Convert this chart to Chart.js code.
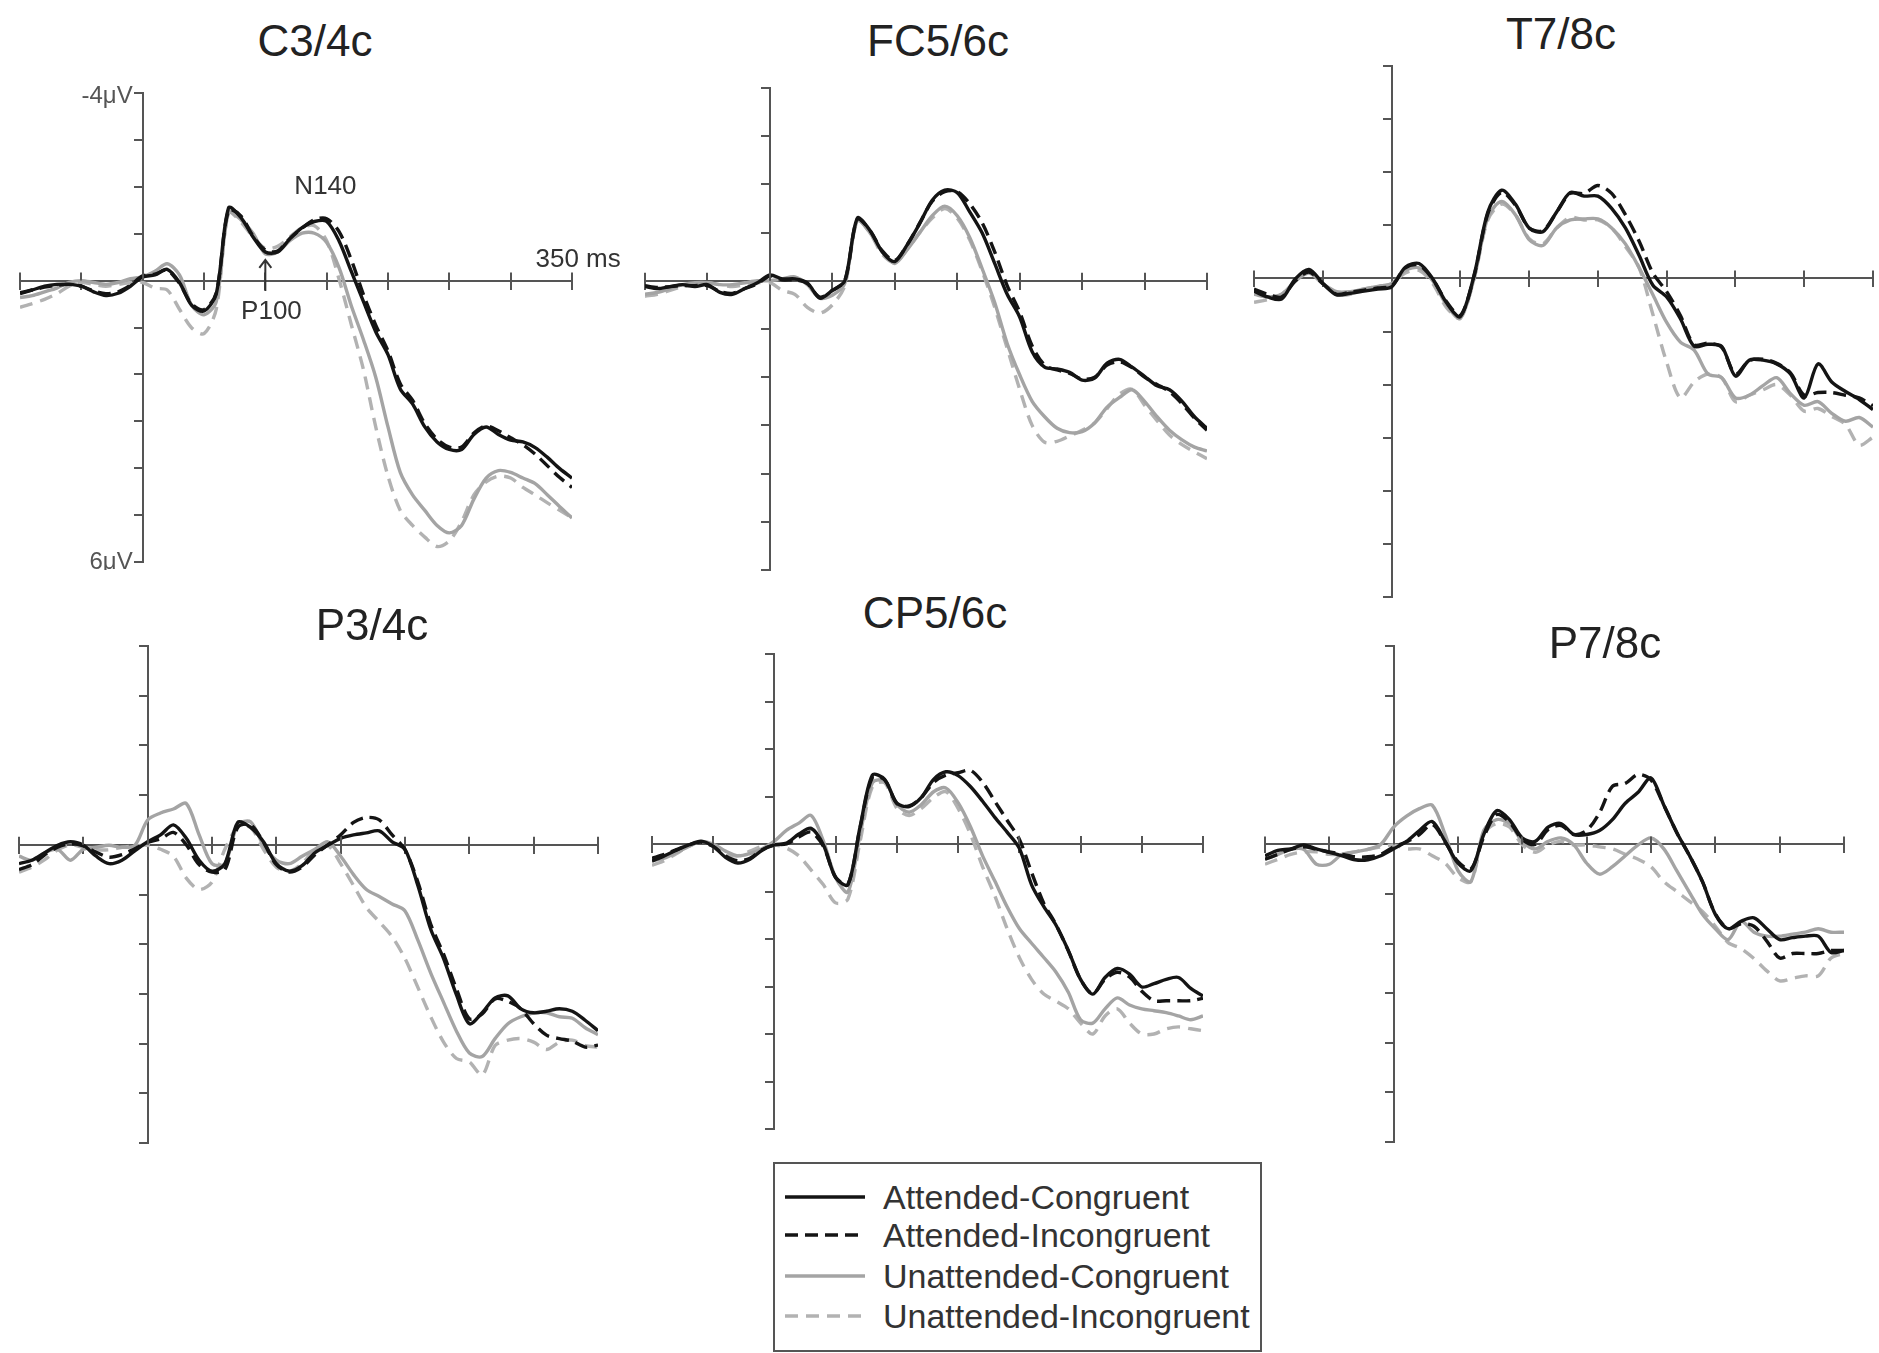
<!DOCTYPE html>
<html>
<head>
<meta charset="utf-8">
<script src="https://cdn.jsdelivr.net/npm/chart.js@4.4.1/dist/chart.umd.min.js"></script>
<style>
  html, body { margin: 0; padding: 0; background: #fff; }
  #page { position: relative; width: 1879px; height: 1353px; overflow: hidden; background: #fff;
          font-family: "Liberation Sans", Arial, sans-serif; }
  .panel { position: absolute; }
  .title { position: absolute; font-size: 44px; line-height: 44px; color: #222; transform: translate(-50%, -50%); white-space: nowrap; }
  #legend { position: absolute; left: 773px; top: 1162px; width: 485px; height: 186px; border: 2px solid #555; }
  .lrow { position: absolute; left: 10px; height: 40px; display: flex; align-items: center; }
  .lrow span { margin-left: 18px; font-size: 34px; color: #333; white-space: nowrap; }
</style>
</head>
<body>
<div id="page"></div>
<script>
// time axis (ms) and the four conditions
const times = [-100,-90,-80,-70,-60,-50,-40,-30,-20,-10,
  0,10,20,30,40,50,60,70,80,90,
  100,110,120,130,140,150,160,170,180,190,
  200,210,220,230,240,250,260,270,280,290,
  300,310,320,330,340,350];
const seriesNames = ['Attended-Congruent', 'Attended-Incongruent', 'Unattended-Congruent', 'Unattended-Incongruent'];

// C3/4c (µV)
const c34Ac = [0.28,0.2,0.12,0.08,0.08,0.12,0.24,0.32,0.27,0.12,
  -0.08,-0.12,-0.24,0.04,0.53,0.65,0.28,-1.55,-1.35,-0.93,
  -0.61,-0.61,-0.89,-1.13,-1.26,-1.26,-0.85,-0.2,0.45,1.09,
  1.58,2.31,2.63,3.12,3.44,3.6,3.6,3.28,3.12,3.28,
  3.4,3.44,3.56,3.77,4.01,4.21];
const c34Ai = [0.26,0.2,0.14,0.1,0.08,0.12,0.22,0.28,0.24,0.1,
  -0.1,-0.14,-0.22,0.06,0.5,0.62,0.26,-1.5,-1.38,-0.95,
  -0.65,-0.63,-0.9,-1.12,-1.3,-1.32,-1.05,-0.45,0.3,0.95,
  1.5,2.2,2.55,3.05,3.38,3.55,3.55,3.25,3.1,3.2,
  3.35,3.5,3.7,3.95,4.2,4.41];
const c34Uc = [0.36,0.32,0.24,0.16,0.04,0,0.04,0.08,0.04,-0.04,
  -0.08,-0.2,-0.36,-0.12,0.53,0.73,0.45,-1.45,-1.3,-1.01,
  -0.57,-0.61,-0.85,-1.01,-1.01,-0.81,-0.28,0.53,1.26,2.06,
  3.12,4.09,4.57,4.9,5.22,5.38,5.22,4.66,4.21,4.05,
  4.09,4.21,4.33,4.57,4.82,5.06];
const c34Ui = [0.57,0.49,0.4,0.28,0.12,0.04,0.08,0.12,0.08,0.04,
  0.04,0.16,0.2,0.61,1.01,1.13,0.61,-1.45,-1.25,-0.93,
  -0.69,-0.73,-0.93,-1.13,-1.17,-0.85,-0.04,0.93,1.9,3.12,
  4.17,4.9,5.22,5.47,5.67,5.55,5.14,4.57,4.29,4.17,
  4.21,4.41,4.57,4.74,4.9,5.06];

// FC5/6c
const fc56Ac = [0.12,0.16,0.12,0.08,0.12,0.08,0.24,0.28,0.16,0.04,
  -0.12,-0.04,-0.04,0.04,0.36,0.2,0.0,-1.3,-1.05,-0.6,
  -0.4,-0.75,-1.19,-1.67,-1.88,-1.83,-1.43,-0.99,-0.36,0.28,
  0.75,1.47,1.79,1.83,1.9,2.06,2.02,1.71,1.63,1.79,
  1.98,2.18,2.26,2.5,2.82,3.06];
const fc56Ai = [0.1,0.14,0.12,0.1,0.1,0.1,0.22,0.26,0.16,0.06,
  -0.1,-0.02,-0.02,0.06,0.34,0.2,0.0,-1.28,-1.05,-0.62,
  -0.42,-0.75,-1.2,-1.65,-1.85,-1.85,-1.6,-1.2,-0.6,0.1,
  0.65,1.35,1.75,1.85,1.92,2.04,2.0,1.75,1.68,1.8,
  2.0,2.15,2.3,2.55,2.85,3.1];
const fc56Uc = [0.28,0.24,0.16,0.08,0.04,0.04,0.08,0.08,0.04,0,
  0,-0.04,-0.08,0.08,0.36,0.3,0.05,-1.25,-1.0,-0.6,
  -0.36,-0.65,-1.0,-1.35,-1.55,-1.35,-0.9,-0.25,0.45,1.3,
  1.95,2.5,2.82,3.06,3.15,3.13,2.95,2.62,2.42,2.26,
  2.5,2.82,3.1,3.3,3.45,3.53];
const fc56Ui = [0.32,0.28,0.2,0.12,0.08,0.04,0.08,0.12,0.08,0.04,
  0.04,0.2,0.28,0.55,0.67,0.5,0.1,-1.25,-1.0,-0.55,
  -0.38,-0.65,-1.0,-1.3,-1.5,-1.3,-0.85,-0.2,0.55,1.4,
  2.25,3.0,3.35,3.33,3.22,3.1,2.95,2.65,2.35,2.25,
  2.58,2.9,3.2,3.4,3.55,3.69];

// T7/8c
const t78Ac = [0.24,0.35,0.39,0.01,-0.17,0.09,0.31,0.28,0.24,0.2,
  0.16,-0.21,-0.28,0.01,0.46,0.72,-0.06,-1.25,-1.66,-1.4,
  -0.95,-0.88,-1.25,-1.62,-1.55,-1.55,-1.32,-0.95,-0.43,0.13,
  0.35,0.76,1.28,1.24,1.28,1.84,1.54,1.54,1.61,1.8,
  2.25,1.61,1.95,2.13,2.28,2.47];
const t78Ai = [0.2,0.3,0.35,0.05,-0.12,0.1,0.3,0.26,0.22,0.18,
  0.14,-0.2,-0.25,0.02,0.44,0.7,-0.05,-1.22,-1.62,-1.38,
  -0.95,-0.9,-1.25,-1.6,-1.6,-1.75,-1.6,-1.2,-0.7,-0.1,
  0.25,0.7,1.25,1.22,1.3,1.8,1.55,1.52,1.6,1.78,
  2.2,2.15,2.15,2.2,2.25,2.4];
const t78Uc = [0.3,0.35,0.3,0.05,-0.1,0.1,0.25,0.25,0.2,0.15,
  0.1,-0.15,-0.2,0.05,0.5,0.75,0.0,-1.15,-1.45,-1.2,
  -0.73,-0.62,-0.95,-1.1,-1.12,-1.12,-0.95,-0.65,-0.2,0.31,
  0.83,1.2,1.35,1.8,1.87,2.25,2.2,2.02,1.87,2.17,
  2.39,2.32,2.54,2.69,2.62,2.8];
const t78Ui = [0.45,0.4,0.3,0.05,-0.15,0.1,0.3,0.3,0.2,0.15,
  0.1,-0.1,-0.15,0.1,0.55,0.75,0.0,-1.1,-1.4,-1.2,
  -0.75,-0.65,-0.95,-1.15,-1.1,-1.1,-0.95,-0.6,-0.2,0.68,
  1.58,2.25,1.95,1.8,1.87,2.32,2.2,2.1,2.0,2.2,
  2.5,2.45,2.6,2.75,3.14,2.99];

// P3/4c
const p34Ac = [0.38,0.31,0.16,0.01,-0.06,0.01,0.23,0.38,0.31,0.12,
  -0.06,-0.2,-0.4,-0.13,0.31,0.53,0.38,-0.45,-0.35,-0.06,
  0.38,0.53,0.42,0.16,0.01,-0.13,-0.2,-0.24,-0.28,-0.06,
  0.09,0.82,1.7,2.29,3.02,3.6,3.38,3.08,3.04,3.3,
  3.38,3.35,3.3,3.35,3.53,3.74];
const p34Ai = [0.5,0.4,0.2,0.05,-0.02,0.02,0.15,0.25,0.2,0.08,
  -0.05,-0.12,-0.25,0.0,0.4,0.55,0.5,-0.35,-0.4,-0.05,
  0.4,0.55,0.45,0.2,0.0,-0.2,-0.45,-0.55,-0.5,-0.2,
  0.1,0.75,1.6,2.2,2.9,3.5,3.4,3.1,3.15,3.3,
  3.6,3.83,3.9,3.95,4.07,4.03];
const p34Uc = [0.23,0.31,0.16,0.09,0.31,0.09,0.05,0.01,0.05,0.01,
  -0.5,-0.64,-0.72,-0.83,-0.2,0.38,0.38,-0.4,-0.46,0.01,
  0.31,0.38,0.23,0.09,-0.06,0.23,0.6,0.9,1.04,1.19,
  1.33,1.92,2.58,3.17,3.75,4.19,4.26,3.9,3.6,3.46,
  3.38,3.38,3.46,3.49,3.68,3.82];
const p34Ui = [0.55,0.45,0.3,0.1,0.0,0.05,0.1,0.1,0.05,0.02,
  0.01,0.09,0.23,0.67,0.9,0.75,0.09,-0.35,-0.35,0.09,
  0.45,0.53,0.38,0.09,0.01,0.38,0.82,1.26,1.55,1.85,
  2.29,2.87,3.46,3.97,4.3,4.37,4.63,4.04,3.93,3.9,
  3.97,4.12,3.97,3.93,4.04,4.07];

// CP5/6c
const cp56Ac = [0.36,0.25,0.13,0.02,-0.06,0.05,0.28,0.4,0.32,0.13,
  0.02,-0.02,-0.21,-0.33,0.02,0.71,0.86,-0.37,-1.45,-1.36,
  -0.86,-0.79,-0.98,-1.36,-1.52,-1.44,-1.21,-0.9,-0.56,-0.25,
  0.09,0.86,1.32,1.71,2.24,2.85,3.16,2.81,2.62,2.74,
  3.01,2.94,2.85,2.81,3.04,3.2];
const cp56Ai = [0.3,0.22,0.12,0.02,-0.04,0.05,0.25,0.35,0.3,0.12,
  0.02,0.0,-0.15,-0.25,0.05,0.7,0.85,-0.35,-1.4,-1.35,
  -0.85,-0.8,-0.98,-1.3,-1.45,-1.5,-1.55,-1.3,-0.9,-0.5,
  -0.1,0.6,1.25,1.7,2.25,2.85,3.15,2.85,2.7,2.8,
  3.1,3.3,3.3,3.3,3.3,3.25];
const cp56Uc = [0.35,0.3,0.18,0.05,-0.05,0.0,0.15,0.25,0.2,0.1,
  -0.06,-0.29,-0.44,-0.6,-0.06,0.71,1.01,-0.21,-1.29,-1.33,
  -0.83,-0.67,-0.83,-1.1,-1.18,-0.87,-0.37,0.25,0.78,1.32,
  1.78,2.09,2.39,2.7,3.12,3.7,3.77,3.47,3.24,3.39,
  3.47,3.51,3.55,3.62,3.7,3.62];
const cp56Ui = [0.45,0.35,0.2,0.05,-0.05,0.05,0.2,0.25,0.15,0.05,
  0.02,0.09,0.25,0.55,0.86,1.24,1.16,-0.06,-1.21,-1.29,
  -0.75,-0.6,-0.75,-0.98,-1.1,-0.75,-0.21,0.48,1.09,1.78,
  2.39,2.85,3.16,3.31,3.47,3.77,4.0,3.62,3.47,3.77,
  4.0,4.0,3.89,3.85,3.89,3.93];

// P7/8c
const p78Ac = [0.23,0.12,0.09,0.01,0.09,0.16,0.23,0.31,0.31,0.23,
  0.09,-0.06,-0.28,-0.46,-0.06,0.38,0.53,-0.2,-0.68,-0.5,
  -0.13,-0.06,-0.35,-0.42,-0.2,-0.2,-0.28,-0.5,-0.83,-1.05,
  -1.34,-0.79,-0.24,0.23,0.75,1.41,1.7,1.55,1.48,1.7,
  1.92,1.88,1.85,1.85,2.18,2.14];
const p78Ai = [0.3,0.2,0.1,0.05,0.1,0.15,0.2,0.25,0.25,0.2,
  0.05,-0.05,-0.2,-0.4,-0.05,0.35,0.5,-0.15,-0.6,-0.45,
  -0.1,0.0,-0.3,-0.38,-0.2,-0.28,-0.64,-1.17,-1.23,-1.41,
  -1.3,-0.79,-0.24,0.23,0.75,1.4,1.7,1.6,1.65,1.95,
  2.29,2.2,2.2,2.2,2.14,2.14];
const p78Uc = [0.3,0.2,0.1,0.1,0.4,0.4,0.2,0.15,0.1,0.0,
  -0.35,-0.57,-0.72,-0.79,-0.2,0.53,0.75,-0.28,-0.5,-0.42,
  -0.06,0.09,-0.06,-0.13,0.01,0.38,0.6,0.45,0.23,0.01,
  -0.13,0.09,0.53,0.97,1.41,1.7,1.92,1.55,1.77,1.85,
  1.85,1.81,1.77,1.7,1.77,1.77];
const p78Ui = [0.4,0.3,0.2,0.15,0.15,0.2,0.2,0.15,0.1,0.05,
  0.01,0.09,0.09,0.23,0.38,0.67,0.75,-0.2,-0.42,-0.35,
  0.01,0.16,0.01,-0.06,0.01,0.01,0.05,0.09,0.2,0.3,
  0.45,0.75,0.95,1.15,1.35,1.65,1.98,2.1,2.3,2.55,
  2.75,2.7,2.65,2.65,2.29,2.2];

// axis range and tick steps
const xMin = -100, xMax = 350, xStep = 50;
const yMin = -4, yMax = 6, yStep = 1;

// look
const axisColor = '#555';
const seriesStyle = [
  { color: '#141414', dash: [] },
  { color: '#141414', dash: [13, 7] },
  { color: '#a4a4a4', dash: [] },
  { color: '#b2b2b2', dash: [13, 8] }
];
const fontFam = '"Liberation Sans", Arial, sans-serif';

// panel placement: plot box [left, top, right, bottom] in page px
const panels = [
  { title: 'C3/4c',  series: [c34Ac, c34Ai, c34Uc, c34Ui],   box: [20, 93, 572, 562],    titleAt: [315, 41],  notes: true },
  { title: 'FC5/6c', series: [fc56Ac, fc56Ai, fc56Uc, fc56Ui], box: [645, 88, 1207, 570],  titleAt: [938, 41],  notes: false },
  { title: 'T7/8c',  series: [t78Ac, t78Ai, t78Uc, t78Ui],   box: [1254, 66, 1873, 597], titleAt: [1561, 34], notes: false },
  { title: 'P3/4c',  series: [p34Ac, p34Ai, p34Uc, p34Ui],   box: [19, 646, 598, 1143],  titleAt: [372, 625], notes: false },
  { title: 'CP5/6c', series: [cp56Ac, cp56Ai, cp56Uc, cp56Ui], box: [652, 654, 1203, 1129], titleAt: [935, 613], notes: false },
  { title: 'P7/8c',  series: [p78Ac, p78Ai, p78Uc, p78Ui],   box: [1265, 646, 1844, 1142], titleAt: [1605, 643], notes: false }
];

// upper half of the x ticks + the labels of the first panel
const erpNotes = {
  id: 'erpNotes',
  afterDraw(chart, args, opts) {
    const { ctx, scales: { x, y } } = chart;
    const x0 = x.getPixelForValue(0);
    const y0 = y.getPixelForValue(0);
    ctx.save();
    ctx.strokeStyle = axisColor;
    ctx.lineWidth = 2;
    x.ticks.forEach(t => {
      const px = Math.round(x.getPixelForValue(t.value));
      ctx.beginPath();
      ctx.moveTo(px, y0);
      ctx.lineTo(px, y0 - 8);
      ctx.stroke();
    });
    if (opts.show) {
      ctx.fillStyle = '#555';
      ctx.font = '24px ' + fontFam;
      ctx.textAlign = 'right';
      ctx.textBaseline = 'middle';
      ctx.fillText('-4\u03BCV', x0 - 10, y.getPixelForValue(-4) + 3);
      ctx.fillText('6\u03BCV', x0 - 10, y.getPixelForValue(6));

      ctx.fillStyle = '#333';
      ctx.font = '26px ' + fontFam;
      ctx.textAlign = 'center';
      ctx.fillText('N140', x.getPixelForValue(149), y.getPixelForValue(-2.0));
      ctx.fillText('P100', x.getPixelForValue(105), y.getPixelForValue(0.66));
      ctx.fillText('350 ms', x.getPixelForValue(355), y.getPixelForValue(-0.44));

      // arrow to P100
      const ax = x.getPixelForValue(100);
      const aTop = y.getPixelForValue(-0.44);
      const aBot = y.getPixelForValue(0.22);
      ctx.strokeStyle = '#333';
      ctx.beginPath();
      ctx.moveTo(ax, aBot);
      ctx.lineTo(ax, aTop);
      ctx.moveTo(ax - 6, aTop + 8);
      ctx.lineTo(ax, aTop);
      ctx.lineTo(ax + 6, aTop + 8);
      ctx.stroke();
    }
    ctx.restore();
  }
};

const page = document.getElementById('page');

panels.forEach(p => {
  const [l, t, r, b] = p.box;
  const pad = { left: 8, right: p.notes ? 62 : 8, top: 8, bottom: 8 };

  const wrap = document.createElement('div');
  wrap.className = 'panel';
  wrap.style.left = (l - pad.left) + 'px';
  wrap.style.top = (t - pad.top) + 'px';
  wrap.style.width = (r - l + pad.left + pad.right) + 'px';
  wrap.style.height = (b - t + pad.top + pad.bottom) + 'px';
  const canvas = document.createElement('canvas');
  wrap.appendChild(canvas);
  page.appendChild(wrap);

  const title = document.createElement('div');
  title.className = 'title';
  title.textContent = p.title;
  title.style.left = p.titleAt[0] + 'px';
  title.style.top = p.titleAt[1] + 'px';
  page.appendChild(title);

  const datasets = p.series.map((vals, i) => ({
    label: seriesNames[i],
    data: times.map((tm, k) => ({ x: tm, y: vals[k] })),
    borderColor: seriesStyle[i].color,
    borderDash: seriesStyle[i].dash,
    borderWidth: 3.4,
    pointRadius: 0,
    tension: 0.3,
    fill: false
  }));

  new Chart(canvas, {
    type: 'line',
    data: { datasets: datasets },
    options: {
      responsive: true,
      maintainAspectRatio: false,
      animation: false,
      layout: { padding: pad },
      plugins: {
        legend: { display: false },
        tooltip: { enabled: false },
        erpNotes: { show: p.notes }
      },
      scales: {
        x: {
          type: 'linear', min: xMin, max: xMax,
          position: { y: 0 },
          ticks: { display: false, stepSize: xStep },
          grid: { display: true, drawOnChartArea: false, drawTicks: true, tickLength: 8, color: axisColor, lineWidth: 2 },
          border: { display: true, color: axisColor, width: 2 }
        },
        y: {
          type: 'linear', min: yMin, max: yMax, reverse: true,
          position: { x: 0 },
          ticks: { display: false, stepSize: yStep },
          grid: { display: true, drawOnChartArea: false, drawTicks: true, tickLength: 8, color: axisColor, lineWidth: 2 },
          border: { display: true, color: axisColor, width: 2 }
        }
      }
    },
    plugins: [erpNotes]
  });
});

// legend box
const legend = document.createElement('div');
legend.id = 'legend';
const rowCenters = [33, 71, 112, 152];
seriesNames.forEach((name, i) => {
  const row = document.createElement('div');
  row.className = 'lrow';
  row.style.top = (rowCenters[i] - 20) + 'px';
  const st = seriesStyle[i];
  row.innerHTML = '<svg width="80" height="12"><line x1="0" y1="6" x2="80" y2="6" stroke="' + st.color +
    '" stroke-width="3.6" stroke-dasharray="' + (st.dash.length ? st.dash.join(' ') : 'none') + '"/></svg>' +
    '<span>' + name + '</span>';
  legend.appendChild(row);
});
page.appendChild(legend);
</script>
</body>
</html>
